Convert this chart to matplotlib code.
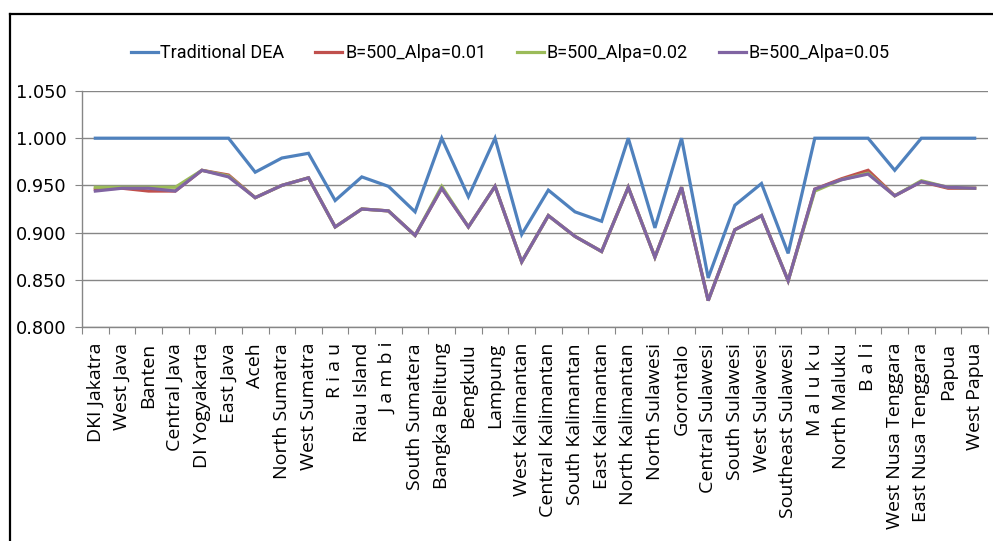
import matplotlib
matplotlib.use("Agg")
import matplotlib.pyplot as plt
from matplotlib.lines import Line2D

provinces = [
  'DKI Jakatra', 'West Java', 'Banten', 'Central Java', 'DI Yogyakarta', 'East Java',
  'Aceh', 'North Sumatra', 'West Sumatra', 'R i a u', 'Riau Island', 'J a m b i',
  'South Sumatera', 'Bangka Belitung', 'Bengkulu', 'Lampung', 'West Kalimantan',
  'Central Kalimantan', 'South Kalimantan', 'East Kalimantan', 'North Kalimantan',
  'North Sulawesi', 'Gorontalo', 'Central Sulawesi', 'South Sulawesi', 'West Sulawesi',
  'Southeast Sulawesi', 'M a l u k u', 'North Maluku', 'B a l i', 'West Nusa Tenggara',
  'East Nusa Tenggara', 'Papua', 'West Papua',
]

traditional_dea = [
  1.000, 1.000, 1.000, 1.000, 1.000, 1.000, 0.964, 0.979, 0.984, 0.934, 0.959, 0.949,
  0.922, 1.000, 0.938, 1.000, 0.898, 0.945, 0.922, 0.912, 1.000, 0.905, 1.000, 0.852,
  0.929, 0.952, 0.878, 1.000, 1.000, 1.000, 0.966, 1.000, 1.000, 1.000,
]

alpha_001 = [
  0.946, 0.947, 0.944, 0.944, 0.966, 0.961, 0.937, 0.950, 0.958, 0.906, 0.925, 0.923,
  0.897, 0.947, 0.906, 0.949, 0.869, 0.918, 0.896, 0.880, 0.948, 0.874, 0.948, 0.828,
  0.903, 0.918, 0.849, 0.946, 0.957, 0.966, 0.939, 0.954, 0.947, 0.947,
]

alpha_002 = [
  0.948, 0.948, 0.948, 0.948, 0.966, 0.960, 0.937, 0.950, 0.958, 0.906, 0.925, 0.923,
  0.897, 0.949, 0.906, 0.949, 0.869, 0.918, 0.896, 0.880, 0.948, 0.874, 0.948, 0.828,
  0.903, 0.918, 0.849, 0.944, 0.956, 0.963, 0.939, 0.955, 0.948, 0.947,
]

alpha_005 = [
  0.944, 0.947, 0.947, 0.944, 0.966, 0.959, 0.937, 0.950, 0.958, 0.906, 0.925, 0.923,
  0.897, 0.947, 0.906, 0.949, 0.869, 0.918, 0.896, 0.880, 0.948, 0.874, 0.948, 0.828,
  0.903, 0.918, 0.849, 0.946, 0.956, 0.962, 0.939, 0.954, 0.948, 0.947,
]

series = [
  ('Traditional DEA', traditional_dea, '#4F81BD'),
  ('B=500_Alpa=0.01', alpha_001, '#C0504D'),
  ('B=500_Alpa=0.02', alpha_002, '#9BBB59'),
  ('B=500_Alpa=0.05', alpha_005, '#8064A2'),
]

W, H = 993, 541
grey = '#868686'

fig = plt.figure(figsize=(W / 100, H / 100), dpi=100)
ax = fig.add_axes([82 / W, 1 - 327 / H, (988 - 82) / W, (327 - 91) / H])

x = list(range(len(provinces)))
for name, values, color in series:
  ax.plot(x, values, color=color, lw=2.3, label=name, solid_joinstyle='miter')

# y axis
ax.set_ylim(0.8, 1.05)
yticks = [0.80, 0.85, 0.90, 0.95, 1.00, 1.05]
ax.set_yticks(yticks)
ax.set_yticklabels([f"{v:.3f}" for v in yticks], fontsize=12.8, family='DejaVu Sans')
ax.tick_params(axis='y', length=5, color=grey, pad=6)
ax.grid(axis='y', color=grey, lw=1)
ax.set_axisbelow(True)

# x axis: ticks between categories, labels at the centres
ax.set_xlim(-0.5, len(provinces) - 0.5)
ax.set_xticks([i - 0.5 for i in range(len(provinces) + 1)])
ax.set_xticklabels([])
ax.tick_params(axis='x', which='major', length=5, color=grey)
ax.set_xticks(x, minor=True)
ax.set_xticklabels(provinces, minor=True, rotation=90, fontsize=14, family='Open Sans')
ax.tick_params(axis='x', which='minor', length=0, pad=11.5)

for side in ['top', 'right']:
  ax.spines[side].set_visible(False)
for side in ['left', 'bottom']:
  ax.spines[side].set_color(grey)
  ax.spines[side].set_linewidth(1)

fig.legend(loc='center', bbox_to_anchor=(510 / W, 1 - 53 / H), ncol=4, frameon=False,
           handlelength=1.5, handletextpad=0.15, columnspacing=1.7,
           prop={'family': 'Roboto', 'size': 13})

# outer frame of the chart
fig.add_artist(Line2D([9.5 / W, 9.5 / W], [0, 1 - 14 / H], color='black', lw=1.6))
fig.add_artist(Line2D([9.5 / W, 1], [1 - 14 / H, 1 - 14 / H], color='black', lw=1.6))

fig.savefig('out.png', dpi=100, facecolor='white')
